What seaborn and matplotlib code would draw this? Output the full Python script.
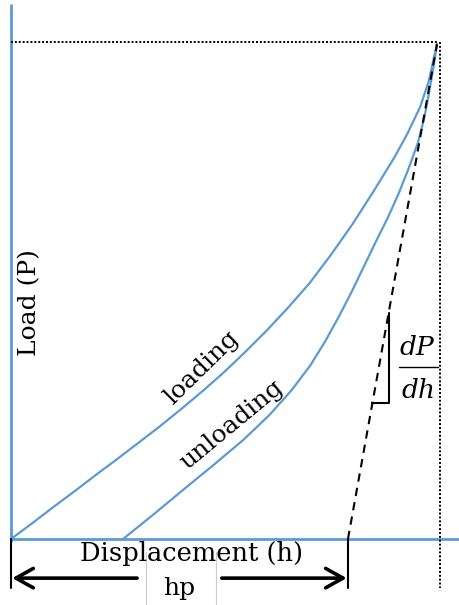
import numpy as np
import pandas as pd
import matplotlib.pyplot as plt
import seaborn as sns

# Load-displacement curves (h in % of h_max, P in % of P_max)
loading_h = [0, 5, 10, 15, 20, 25, 30, 35, 40, 45, 50, 55, 60, 65, 70, 75, 80, 85, 90, 93, 96, 98, 100]
loading_p = [0, 3.2, 6.5, 9.7, 13.0, 16.2, 19.5, 22.8, 26.3, 29.9, 33.7, 37.8, 42.1, 46.7, 51.6,
             57.3, 63.4, 70.1, 77.1, 81.8, 87.2, 92.3, 100]

unloading_h = [26.3, 33.5, 40.5, 47.6, 54.5, 60.6, 65.8, 70.2, 73.8, 77.0, 80.0, 82.8, 85.6,
               88.5, 91.1, 93.4, 95.5, 97.0, 98.1, 99.1, 100]
unloading_p = [0, 5, 10, 15, 20, 25, 30, 35, 40, 45, 50, 55, 60, 65, 70, 75, 80, 85, 90, 95, 100]

# tangent to unloading curve at peak
h_max = 100
p_max = 100
h_p = 79.1
tangent_h = [h_p, h_max]
tangent_p = [0, p_max]

blue = '#5B9BD5'

sns.set_style('white')
plt.rcParams['font.family'] = ['DejaVu Serif']
plt.rcParams['mathtext.fontset'] = 'dejavuserif'
plt.rcParams['text.color'] = 'black'

fig = plt.figure(figsize=(4.6, 6.05), dpi=100)
ax = fig.add_axes([0, 0, 1, 1])
ax.set_xlim(-2.58, 105.4)
ax.set_ylim(-13.33, 108.9)
ax.axis('off')

# axes drawn as plain lines
ax.plot([0, 0], [-0.3, 107.9], color=blue, lw=2.0)
ax.plot([0, 106], [0, 0], color=blue, lw=2.0)

df_load = pd.DataFrame({'h': loading_h, 'P': loading_p})
df_unload = pd.DataFrame({'h': unloading_h, 'P': unloading_p})
sns.lineplot(data=df_load, x='h', y='P', sort=False, color=blue, lw=1.6, ax=ax)
sns.lineplot(data=df_unload, x='h', y='P', sort=False, color=blue, lw=1.6, ax=ax)

# tangent (dashed)
ax.plot(tangent_h, tangent_p, color='black', lw=1.5, ls=(0, (4, 3)))

# dotted guides at peak
ax.plot([0, h_max], [p_max + 0.4, p_max + 0.4], color='black', lw=1.4, ls=(0, (1, 1)))
ax.plot([h_max + 0.7, h_max + 0.7], [p_max + 0.4, -9.9], color='black', lw=1.4, ls=(0, (1, 1)))

# slope triangle
ax.plot([84.8, 88.7, 88.7], [27.5, 27.5, 45.6], color='black', lw=1.5)
ax.text(95.5, 38.6, '$dP$', fontsize=19, ha='center', va='center')
ax.plot([91.1, 100.2], [34.7, 34.7], color='black', lw=1.0)
ax.text(95.5, 30.1, '$dh$', fontsize=19, ha='center', va='center')

# labels
ax.text(4.3, 47.7, 'Load (P)', fontsize=18, rotation=90, ha='center', va='center')
ax.text(42.3, -3.0, 'Displacement (h)', fontsize=18.5, ha='center', va='center')
ax.text(44.8, 34.5, 'loading', fontsize=18, rotation=44.6, rotation_mode='anchor',
        ha='center', va='center')
ax.text(51.9, 23.0, 'unloading', fontsize=18, rotation=39.6, rotation_mode='anchor',
        ha='center', va='center')

# hp dimension
ax.plot([0, 0], [0, -9.9], color='black', lw=1.5)
ax.plot([h_p, h_p], [0, -9.9], color='black', lw=1.5)
ax.plot([31.7, 31.7], [-2.6, -13.4], color='#cccccc', lw=0.8)
ax.plot([48.1, 48.1], [-2.6, -13.4], color='#cccccc', lw=0.8)
arrow = dict(arrowstyle='->,head_length=1.25,head_width=0.7', lw=2.6, color='black',
             shrinkA=0, shrinkB=0)
ax.annotate('', xy=(0.3, -7.9), xytext=(29.6, -7.9), arrowprops=arrow)
ax.annotate('', xy=(h_p - 0.3, -7.9), xytext=(49.5, -7.9), arrowprops=arrow)
ax.text(39.4, -9.9, 'hp', fontsize=18, ha='center', va='center')

fig.savefig('out.png', dpi=100)
